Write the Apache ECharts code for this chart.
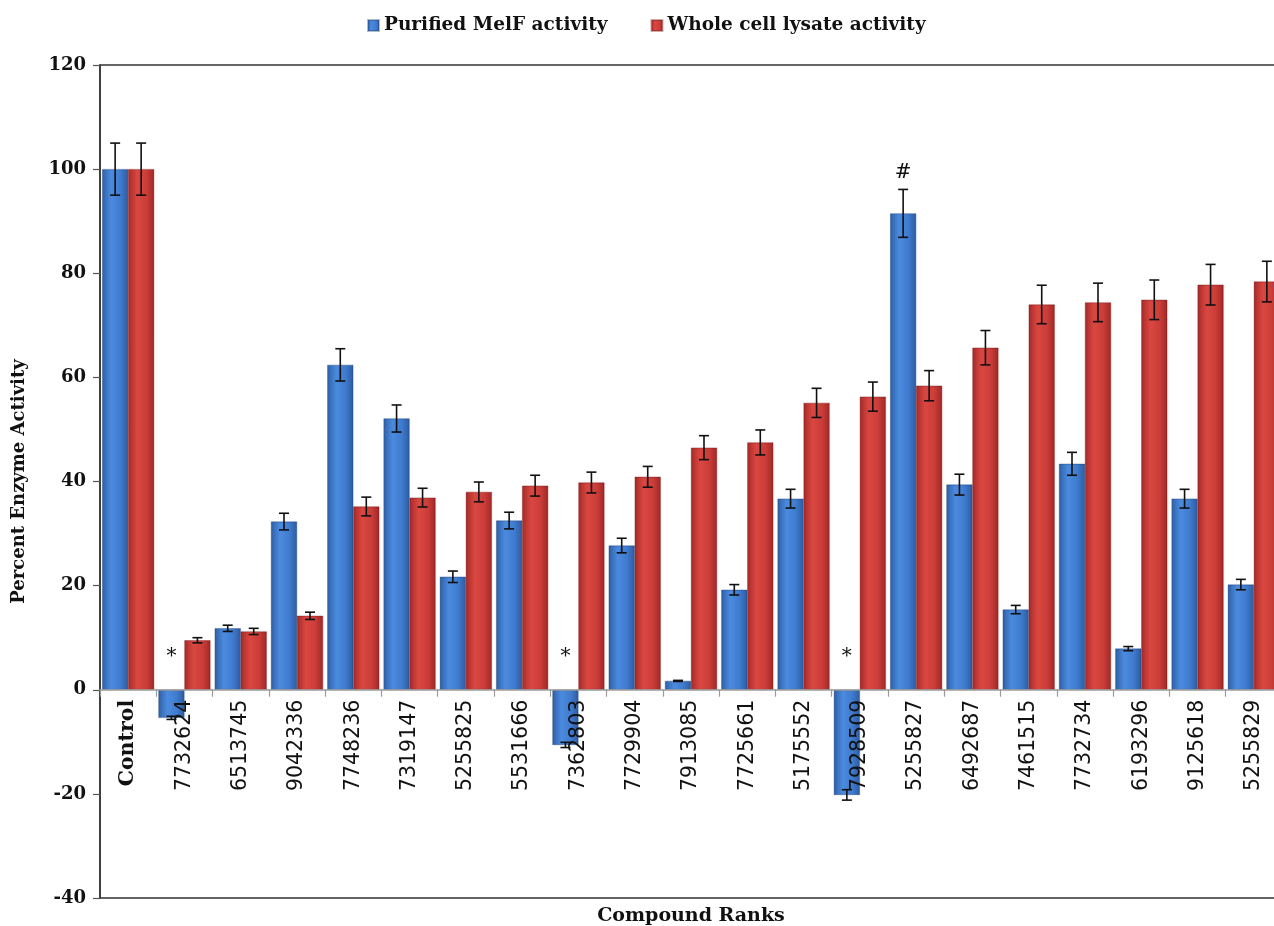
<!DOCTYPE html>
<html>
<head>
<meta charset="utf-8">
<title>Percent Enzyme Activity</title>
<script src="https://cdn.jsdelivr.net/npm/echarts@6/dist/echarts.min.js"></script>
<style>
  html, body { margin: 0; padding: 0; background: #fff; }
  #chart { width: 1274px; height: 926px; }
</style>
</head>
<body>
<div id="chart"></div>
<script>
// Compound ranks along the x axis
const categories = ['Control', '7732624', '6513745', '9042336', '7748236', '7319147', '5255825',
  '5531666', '7362803', '7729904', '7913085', '7725661', '5175552', '7928509', '5255827',
  '6492687', '7461515', '7732734', '6193296', '9125618', '5255829'];

// Purified MelF activity (% of control) and its error
const purified = [100, -5.4, 11.8, 32.3, 62.4, 52.1, 21.7, 32.5, -10.6, 27.7, 1.7,
  19.2, 36.7, -20.2, 91.5, 39.4, 15.4, 43.4, 7.9, 36.7, 20.2];
const purifiedErr = [5, 0.3, 0.6, 1.6, 3.1, 2.6, 1.1, 1.6, 0.5, 1.4, 0.1,
  1.0, 1.8, 1.0, 4.6, 2.0, 0.8, 2.2, 0.4, 1.8, 1.0];

// Whole cell lysate activity (% of control) and its error
const lysate = [100, 9.5, 11.2, 14.2, 35.2, 36.9, 38.0, 39.2, 39.8, 40.9, 46.5,
  47.5, 55.1, 56.3, 58.4, 65.7, 74.0, 74.4, 74.9, 77.8, 78.4];
const lysateErr = [5, 0.5, 0.6, 0.7, 1.8, 1.8, 1.9, 2.0, 2.0, 2.0, 2.3,
  2.4, 2.8, 2.8, 2.9, 3.3, 3.7, 3.7, 3.8, 3.9, 3.9];

// Significance marks on the purified enzyme bars
const starCats = ['7732624', '7362803', '7928509'];
const hashCats = ['5255827'];

// Y axis scale
const yMin = -40, yMax = 120, yStep = 20;

const BAR_W = 26;
const LABEL_GAP = 10;
const serif = '"DejaVu Serif", "Liberation Serif", serif';
const sans = '"DejaVu Sans", Verdana, sans-serif';

const blueFill = new echarts.graphic.LinearGradient(0, 0, 1, 0, [
  { offset: 0, color: '#2f61a8' },
  { offset: 0.35, color: '#4b8bdf' },
  { offset: 0.7, color: '#3f7bcf' },
  { offset: 1, color: '#2d5ca0' }
]);
const redFill = new echarts.graphic.LinearGradient(0, 0, 1, 0, [
  { offset: 0, color: '#a82b29' },
  { offset: 0.35, color: '#da4741' },
  { offset: 0.7, color: '#cb3d39' },
  { offset: 1, color: '#a12826' }
]);

function errorBars(offset) {
  return function (params, api) {
    const i = api.value(0), v = api.value(1), e = api.value(2);
    const hi = api.coord([i, v + e]);
    const lo = api.coord([i, v - e]);
    const x = hi[0] + offset;
    const cap = 5;
    const style = { stroke: '#111', lineWidth: 1.6 };
    return {
      type: 'group',
      children: [
        { type: 'line', shape: { x1: x, y1: hi[1], x2: x, y2: lo[1] }, style },
        { type: 'line', shape: { x1: x - cap, y1: hi[1], x2: x + cap, y2: hi[1] }, style },
        { type: 'line', shape: { x1: x - cap, y1: lo[1], x2: x + cap, y2: lo[1] }, style }
      ]
    };
  };
}

function markText(dy, size) {
  return function (params, api) {
    const i = api.value(0), v = api.value(1);
    const p = api.coord([i, v]);
    return {
      type: 'text',
      x: p[0] - BAR_W / 2,
      y: p[1] + dy,
      style: {
        text: api.value(2) === 1 ? '#' : '*',
        fill: '#111',
        font: size + 'px ' + serif,
        align: 'center',
        verticalAlign: 'middle'
      }
    };
  };
}

const errPurified = categories.map((c, i) => [i, purified[i], purifiedErr[i]]);
const errLysate = categories.map((c, i) => [i, lysate[i], lysateErr[i]]);
const stars = starCats.map(c => [categories.indexOf(c), 0, 0]);
const hashes = hashCats.map(c => {
  const i = categories.indexOf(c);
  return [i, purified[i] + purifiedErr[i], 1];
});

const chart = echarts.init(document.getElementById('chart'), null, { renderer: 'canvas' });

chart.setOption({
  animation: false,
  backgroundColor: '#fff',
  legend: {
    top: 11,
    left: 362,
    itemWidth: 11,
    itemHeight: 11,
    itemGap: 43,
    icon: 'rect',
    textStyle: { fontFamily: serif, fontWeight: 'bold', fontSize: 18.5, color: '#111' },
    data: ['Purified MelF activity', 'Whole cell lysate activity']
  },
  grid: {
    left: 100, top: 65, width: 1182, height: 833,
    containLabel: false,
    outerBoundsMode: 'none',
    show: true, borderColor: '#333', borderWidth: 1.5, backgroundColor: 'transparent'
  },
  xAxis: [{
    type: 'category',
    data: categories,
    z: 4,
    axisLine: { onZero: true, lineStyle: { color: '#9a9a9a', width: 1.5 } },
    axisTick: { show: true, length: 7, lineStyle: { color: '#9a9a9a', width: 1.2 } },
    axisLabel: {
      rotate: 90,
      margin: LABEL_GAP,
      interval: 0,
      fontFamily: sans,
      fontSize: 20.5,
      color: '#111',
      formatter: v => v === 'Control' ? '{c|' + v + '}' : v,
      rich: { c: { fontFamily: serif, fontWeight: 'bold', fontSize: 20.5, color: '#111' } }
    },
    splitLine: { show: false }
  }, {
    type: 'category',
    position: 'bottom',
    data: categories,
    axisLine: { show: false, onZero: false },
    axisTick: { show: false },
    axisLabel: { show: false },
    name: 'Compound Ranks',
    nameLocation: 'middle',
    nameGap: 9,
    nameTextStyle: { fontFamily: serif, fontWeight: 'bold', fontSize: 19, color: '#111',
      verticalAlign: 'top' }
  }],
  yAxis: {
    type: 'value',
    min: yMin, max: yMax, interval: yStep,
    name: 'Percent Enzyme Activity',
    nameLocation: 'middle',
    nameRotate: 90,
    nameGap: 72,
    nameTextStyle: { fontFamily: serif, fontWeight: 'bold', fontSize: 18, color: '#111' },
    axisLine: { show: true, lineStyle: { color: '#333', width: 1.5 } },
    axisTick: { show: true, length: 7, lineStyle: { color: '#555', width: 1.2 } },
    axisLabel: { margin: 14, fontFamily: serif, fontWeight: 'bold', fontSize: 18, color: '#111' },
    splitLine: { show: false }
  },
  series: [
    {
      name: 'Purified MelF activity',
      type: 'bar',
      data: purified,
      barWidth: BAR_W,
      barGap: '0%',
      itemStyle: { color: blueFill, borderColor: 'rgba(30,60,110,0.35)', borderWidth: 0.5,
        shadowColor: 'rgba(0,0,0,0.25)', shadowBlur: 2, shadowOffsetX: 1 }
    },
    {
      name: 'Whole cell lysate activity',
      type: 'bar',
      data: lysate,
      barWidth: BAR_W,
      barGap: '0%',
      itemStyle: { color: redFill, borderColor: 'rgba(110,20,20,0.35)', borderWidth: 0.5,
        shadowColor: 'rgba(0,0,0,0.25)', shadowBlur: 2, shadowOffsetX: 1 }
    },
    {
      type: 'custom',
      renderItem: errorBars(-BAR_W / 2),
      data: errPurified,
      encode: { x: 0, y: 1 },
      z: 5, silent: true
    },
    {
      type: 'custom',
      renderItem: errorBars(BAR_W / 2),
      data: errLysate,
      encode: { x: 0, y: 1 },
      z: 5, silent: true
    },
    {
      type: 'custom',
      renderItem: markText(-33, 20),
      data: stars,
      encode: { x: 0, y: 1 },
      z: 6, silent: true
    },
    {
      type: 'custom',
      renderItem: markText(-17, 20),
      data: hashes,
      encode: { x: 0, y: 1 },
      z: 6, silent: true
    }
  ]
});

// The category labels hang from the zero line rather than the plot's bottom edge:
// measure that distance on the value axis and pull the labels up by it.
const zeroY = chart.convertToPixel({ yAxisIndex: 0 }, 0);
const floorY = chart.convertToPixel({ yAxisIndex: 0 }, yMin);
chart.setOption({
  xAxis: [{ axisLabel: { margin: LABEL_GAP - (floorY - zeroY) } }, {}]
});
</script>
</body>
</html>
